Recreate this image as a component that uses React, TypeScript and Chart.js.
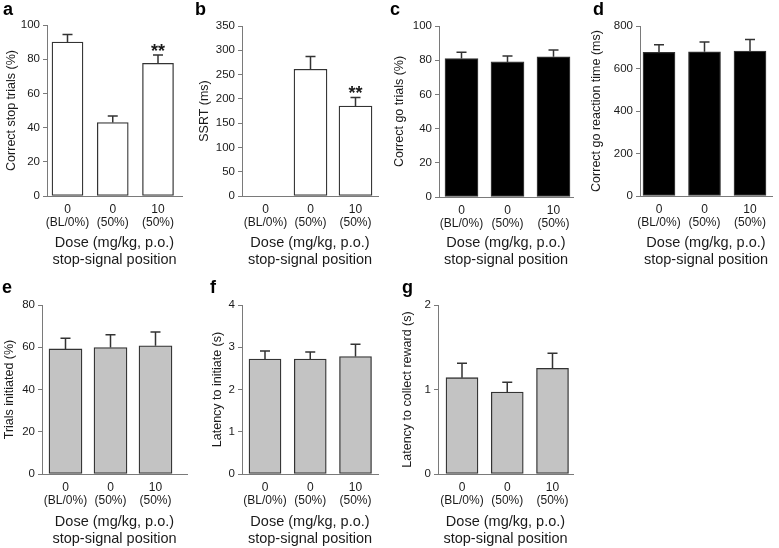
import React, { useEffect, useRef } from 'react';
import { Chart, registerables } from 'chart.js';

Chart.register(...registerables);

const FONT = '"Liberation Sans", Arial, Helvetica, sans-serif';
const TEXT = '#1a1a1a';
const AXIS = '#7a7a7a';
const EDGE = '#333333';

// ---- shared labels ----
const doseLabels: string[][] = [['0', '(BL/0%)'], ['0', '(50%)'], ['10', '(50%)']];
const xAxisTitle = ['Dose (mg/kg, p.o.)', 'stop-signal position'];

// ---- panel data (mean, SEM, significance) ----
const correctStopMean = [90, 43, 77.6];
const correctStopSem = [4.5, 3.8, 4.9];
const correctStopSig = ['', '', '**'];

const ssrtMean: (number | null)[] = [null, 261, 185];
const ssrtSem: (number | null)[] = [null, 26, 18];
const ssrtSig = ['', '', '**'];

const correctGoMean = [81, 79, 82];
const correctGoSem = [3.6, 3.5, 4];

const goRtMean = [676, 679, 682];
const goRtSem = [36, 46, 55];

const trialsInitMean = [59.2, 59.9, 60.7];
const trialsInitSem = [5.1, 6, 6.5];

const latInitMean = [2.72, 2.72, 2.78];
const latInitSem = [0.19, 0.17, 0.29];

const latRewardMean = [1.14, 0.97, 1.25];
const latRewardSem = [0.17, 0.115, 0.18];

// ---- y-axis titles and ranges ----
const yTitles = [
  'Correct stop trials (%)',
  'SSRT (ms)',
  'Correct go trials (%)',
  'Correct go reaction time (ms)',
  'Trials initiated (%)',
  'Latency to initiate (s)',
  'Latency to collect reward (s)',
];
const yMax = [100, 350, 100, 800, 80, 4, 2];
const yStep = [20, 50, 20, 200, 20, 1, 1];
const panelLetters = ['a', 'b', 'c', 'd', 'e', 'f', 'g'];

// ---- layout (page pixel geometry) ----
type Layout = {
  l: number; t: number; w: number; h: number;
  axisX: number; right: number; top: number; bottom: number;
  centers: number[]; barW: number; yTitleX: number;
  letterX: number; letterY: number;
};
const layouts: Layout[] = [
  { l: 0, t: 0, w: 195, h: 270, axisX: 47, right: 182, top: 25, bottom: 196, centers: [67.5, 112.5, 158], barW: 31, yTitleX: 12, letterX: 3, letterY: -1 },
  { l: 195, t: 0, w: 195, h: 270, axisX: 242, right: 378, top: 26, bottom: 196, centers: [265.5, 310.5, 355.5], barW: 33, yTitleX: 205, letterX: 195, letterY: -1 },
  { l: 390, t: 0, w: 195, h: 270, axisX: 439, right: 573, top: 26, bottom: 197, centers: [461.5, 507, 553.5], barW: 33, yTitleX: 400, letterX: 390, letterY: -1 },
  { l: 585, t: 0, w: 194, h: 270, axisX: 640, right: 772, top: 26, bottom: 196, centers: [659, 704, 750], barW: 32, yTitleX: 597, letterX: 593, letterY: -1 },
  { l: 0, t: 270, w: 195, h: 278, axisX: 42, right: 187, top: 305, bottom: 474, centers: [65.5, 110.5, 155.5], barW: 33, yTitleX: 10, letterX: 2, letterY: 277 },
  { l: 195, t: 270, w: 195, h: 278, axisX: 242, right: 378, top: 305, bottom: 474, centers: [265, 310, 355.5], barW: 32, yTitleX: 218, letterX: 210, letterY: 277 },
  { l: 390, t: 270, w: 195, h: 278, axisX: 438, right: 573, top: 305, bottom: 474, centers: [462, 507, 552.5], barW: 32, yTitleX: 408, letterX: 402, letterY: 277 },
];

const fills = ['#ffffff', '#ffffff', '#000000', '#000000', '#c3c3c3', '#c3c3c3', '#c3c3c3'];

type Panel = {
  mean: (number | null)[];
  sem: (number | null)[];
  sig: string[];
};
const panels: Panel[] = [
  { mean: correctStopMean, sem: correctStopSem, sig: correctStopSig },
  { mean: ssrtMean, sem: ssrtSem, sig: ssrtSig },
  { mean: correctGoMean, sem: correctGoSem, sig: ['', '', ''] },
  { mean: goRtMean, sem: goRtSem, sig: ['', '', ''] },
  { mean: trialsInitMean, sem: trialsInitSem, sig: ['', '', ''] },
  { mean: latInitMean, sem: latInitSem, sig: ['', '', ''] },
  { mean: latRewardMean, sem: latRewardSem, sig: ['', '', ''] },
];

function errorBarPlugin(p: Panel) {
  return {
    id: 'errbars',
    afterDatasetsDraw(chart: any) {
      const { ctx } = chart;
      const xs = chart.scales.x;
      const ys = chart.scales.y;
      ctx.save();
      ctx.strokeStyle = EDGE;
      ctx.lineWidth = 1.5;
      p.mean.forEach((v, i) => {
        if (v == null) return;
        const e = p.sem[i] ?? 0;
        const x = xs.getPixelForValue(i);
        const yb = ys.getPixelForValue(v);
        const yt = ys.getPixelForValue(v + e);
        ctx.beginPath();
        ctx.moveTo(x, yb);
        ctx.lineTo(x, yt);
        ctx.moveTo(x - 5, yt);
        ctx.lineTo(x + 5, yt);
        ctx.stroke();
        if (p.sig[i]) {
          ctx.fillStyle = TEXT;
          ctx.font = `bold 18px ${FONT}`;
          ctx.textAlign = 'center';
          ctx.textBaseline = 'alphabetic';
          ctx.fillText(p.sig[i], x, yt + 2);
        }
      });
      ctx.restore();
    },
  };
}

function makeConfig(idx: number): any {
  const L = layouts[idx];
  const p = panels[idx];
  const s = (L.centers[2] - L.centers[0]) / 2;
  const xMin = -(L.centers[0] - L.axisX) / s;
  const xMax = 2 + (L.right - L.centers[2]) / s;
  const yTitleFont = 12.5;
  const yTitlePad = L.yTitleX - L.l - (yTitleFont * 1.2) / 2;
  const data = p.mean
    .map((v, i) => (v == null ? null : { x: i, y: v }))
    .filter((d) => d !== null);
  return {
    type: 'bar',
    data: {
      datasets: [
        {
          data,
          backgroundColor: fills[idx],
          borderColor: EDGE,
          borderWidth: 1.3,
          borderSkipped: false,
          barThickness: L.barW,
        },
      ],
    },
    options: {
      responsive: false,
      animation: false,
      events: [],
      layout: {
        padding: { left: 0, bottom: 0, top: L.top - L.t, right: L.l + L.w - L.right },
      },
      plugins: { legend: { display: false }, tooltip: { enabled: false }, title: { display: false } },
      scales: {
        x: {
          type: 'linear',
          offset: false,
          bounds: 'data',
          grace: 0,
          min: xMin,
          max: xMax,
          afterDataLimits: (sc: any) => {
            sc.min = xMin;
            sc.max = xMax;
          },
          afterBuildTicks: (sc: any) => {
            sc.ticks = doseLabels.map((_, i) => ({ value: i }));
          },
          afterFit: (sc: any) => {
            sc.height = L.t + L.h - L.bottom;
          },
          grid: { display: false, drawTicks: false, offset: false },
          border: { display: true, color: AXIS, width: 1 },
          ticks: {
            autoSkip: false,
            maxRotation: 0,
            padding: 7,
            color: TEXT,
            font: { family: FONT, size: 12, lineHeight: 1.1 },
            callback: (v: number) => doseLabels[Math.round(v)] ?? '',
          },
          title: {
            display: true,
            text: xAxisTitle,
            color: TEXT,
            font: { family: FONT, size: 14.5, lineHeight: 1.2 },
            padding: { top: 0, bottom: L.t === 0 ? 1 : 0 },
          },
        },
        y: {
          min: 0,
          max: yMax[idx],
          afterFit: (sc: any) => {
            sc.width = L.axisX - L.l;
          },
          grid: { display: true, drawOnChartArea: false, drawTicks: true, tickLength: 4, color: AXIS, lineWidth: 1 },
          border: { display: true, color: AXIS, width: 1 },
          ticks: {
            stepSize: yStep[idx],
            padding: 3,
            color: TEXT,
            font: { family: FONT, size: 11.5 },
          },
          title: {
            display: true,
            text: yTitles[idx],
            color: TEXT,
            font: { family: FONT, size: yTitleFont, lineHeight: 1.2 },
            padding: { top: yTitlePad, bottom: 0 },
          },
        },
      },
    },
    plugins: [errorBarPlugin(p)],
  };
}

function Panel({ idx }: { idx: number }) {
  const ref = useRef<HTMLCanvasElement | null>(null);
  const L = layouts[idx];
  useEffect(() => {
    if (!ref.current) return;
    const chart = new Chart(ref.current, makeConfig(idx));
    return () => chart.destroy();
  }, [idx]);
  return (
    <canvas
      ref={ref}
      width={L.w}
      height={L.h}
      style={{ position: 'absolute', left: L.l, top: L.t, width: L.w, height: L.h }}
    />
  );
}

export default function App() {
  return (
    <div style={{ position: 'absolute', left: 0, top: 0, width: 779, height: 548, background: '#fff', overflow: 'hidden' }}>
      {layouts.map((_, i) => (
        <Panel key={i} idx={i} />
      ))}
      {layouts.map((L, i) => (
        <div
          key={'l' + i}
          style={{
            position: 'absolute',
            left: L.letterX,
            top: L.letterY,
            font: `bold 18px ${FONT}`,
            lineHeight: '21px',
            color: '#000',
          }}
        >
          {panelLetters[i]}
        </div>
      ))}
    </div>
  );
}
